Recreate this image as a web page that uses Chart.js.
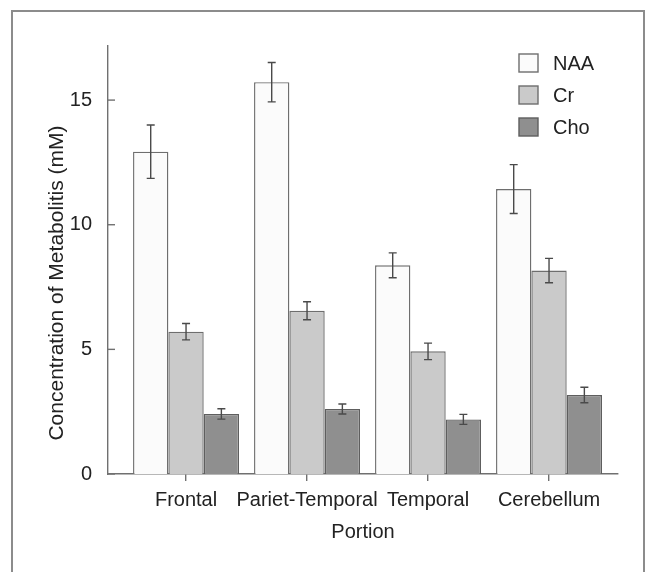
<!DOCTYPE html>
<html>
<head>
<meta charset="utf-8">
<script src="https://cdn.jsdelivr.net/npm/chart.js@4/dist/chart.umd.min.js"></script>
<style>
  html, body { margin: 0; padding: 0; background: #fff; overflow: hidden; }
  #wrap { position: relative; width: 648px; height: 572px; }
  #frame { position: absolute; left: 11px; top: 10px; width: 634px; height: 600px; border: 2px solid #8c8c8c; box-sizing: border-box; }
  canvas { position: absolute; left: 0; top: 0; }
</style>
</head>
<body>
<div id="wrap">
  <div id="frame"></div>
  <canvas id="chart" width="648" height="572"></canvas>
</div>
<script>
const portions = ["Frontal", "Pariet-Temporal", "Temporal", "Cerebellum"];
const naa = [12.93, 15.72, 8.37, 11.43];
const naaErr = [1.07, 0.79, 0.5, 0.98];
const cr = [5.71, 6.55, 4.92, 8.16];
const crErr = [0.33, 0.36, 0.33, 0.49];
const cho = [2.41, 2.61, 2.19, 3.17];
const choErr = [0.21, 0.2, 0.2, 0.31];
const yTicks = [0, 5, 10, 15];

const FONT = "'Liberation Sans', Arial, Helvetica, sans-serif";
const TEXT = "#222";
const AXIS = "#707070";

function points(vals) {
  return vals.map((v, i) => ({ x: i, y: v }));
}

// error bars, drawn from each bar element and the y scale
const errorBars = {
  id: "errorBars",
  afterDatasetsDraw(chart) {
    const ctx = chart.ctx;
    const y = chart.scales.y;
    ctx.save();
    ctx.strokeStyle = "#4a4a4a";
    ctx.lineWidth = 1.4;
    chart.data.datasets.forEach((ds, di) => {
      const meta = chart.getDatasetMeta(di);
      meta.data.forEach((bar, i) => {
        const v = ds.data[i].y, e = ds.errors[i];
        const top = y.getPixelForValue(v + e);
        const bot = y.getPixelForValue(v - e);
        ctx.beginPath();
        ctx.moveTo(bar.x, top); ctx.lineTo(bar.x, bot);
        ctx.moveTo(bar.x - 4, top); ctx.lineTo(bar.x + 4, top);
        ctx.moveTo(bar.x - 4, bot); ctx.lineTo(bar.x + 4, bot);
        ctx.stroke();
      });
    });
    ctx.restore();
  }
};

// inward y ticks, rotated y title and the boxed legend
const extras = {
  id: "extras",
  afterDraw(chart) {
    const ctx = chart.ctx;
    const y = chart.scales.y;
    const area = chart.chartArea;
    ctx.save();
    ctx.strokeStyle = AXIS;
    ctx.lineWidth = 1.4;
    yTicks.forEach(t => {
      const py = y.getPixelForValue(t);
      ctx.beginPath();
      ctx.moveTo(area.left, py); ctx.lineTo(area.left + 7, py);
      ctx.stroke();
    });

    ctx.fillStyle = TEXT;
    ctx.font = "21px " + FONT;
    ctx.textAlign = "center";
    ctx.textBaseline = "middle";
    ctx.translate(57, 283);
    ctx.rotate(-Math.PI / 2);
    ctx.fillText("Concentration of Metabolitis (mM)", 0, 0);
    ctx.restore();

    ctx.save();
    ctx.font = "20px " + FONT;
    ctx.textBaseline = "middle";
    chart.data.datasets.forEach((ds, i) => {
      const cy = 63 + i * 32;
      ctx.fillStyle = ds.backgroundColor;
      ctx.strokeStyle = ds.borderColor;
      ctx.lineWidth = 1.4;
      ctx.fillRect(519, cy - 9, 19, 18);
      ctx.strokeRect(519, cy - 9, 19, 18);
      ctx.fillStyle = TEXT;
      ctx.fillText(ds.label, 553, cy + 1);
    });
    ctx.restore();
  }
};

new Chart(document.getElementById("chart"), {
  type: "bar",
  data: {
    datasets: [
      { label: "NAA", data: points(naa), errors: naaErr, backgroundColor: "#fbfbfb", borderColor: "#6e6e6e", borderWidth: 1.4 },
      { label: "Cr", data: points(cr), errors: crErr, backgroundColor: "#cacaca", borderColor: "#6e6e6e", borderWidth: 1.4 },
      { label: "Cho", data: points(cho), errors: choErr, backgroundColor: "#8f8f8f", borderColor: "#5e5e5e", borderWidth: 1.4 }
    ]
  },
  options: {
    responsive: false,
    animation: false,
    layout: { padding: { left: 45, top: 46, right: 30, bottom: 20 } },
    datasets: { bar: { categoryPercentage: 0.876, barPercentage: 1.0 } },
    plugins: { legend: { display: false }, tooltip: { enabled: false } },
    scales: {
      x: {
        type: "linear",
        offset: false,
        min: -0.645,
        max: 3.57,
        afterBuildTicks: s => { s.ticks = portions.map((p, i) => ({ value: i })); },
        afterFit: s => { s.height = 78; },
        grid: { display: true, offset: false, drawOnChartArea: false, drawTicks: true, tickLength: 7, color: AXIS, lineWidth: 1.4 },
        border: { display: true, color: AXIS, width: 1.4 },
        ticks: {
          padding: 7,
          autoSkip: false,
          maxRotation: 0,
          color: TEXT,
          font: { family: FONT, size: 20 },
          callback: v => portions[v]
        },
        title: { display: true, text: "Portion", color: TEXT, font: { family: FONT, size: 20 }, padding: { top: 0, bottom: 8 } }
      },
      y: {
        min: 0,
        max: 17.17,
        afterBuildTicks: s => { s.ticks = yTicks.map(v => ({ value: v })); },
        afterFit: s => { s.width = 63; },
        grid: { display: false },
        border: { display: true, color: AXIS, width: 1.4 },
        ticks: { padding: 8, color: TEXT, font: { family: FONT, size: 20 } }
      }
    }
  },
  plugins: [errorBars, extras]
});
</script>
</body>
</html>
